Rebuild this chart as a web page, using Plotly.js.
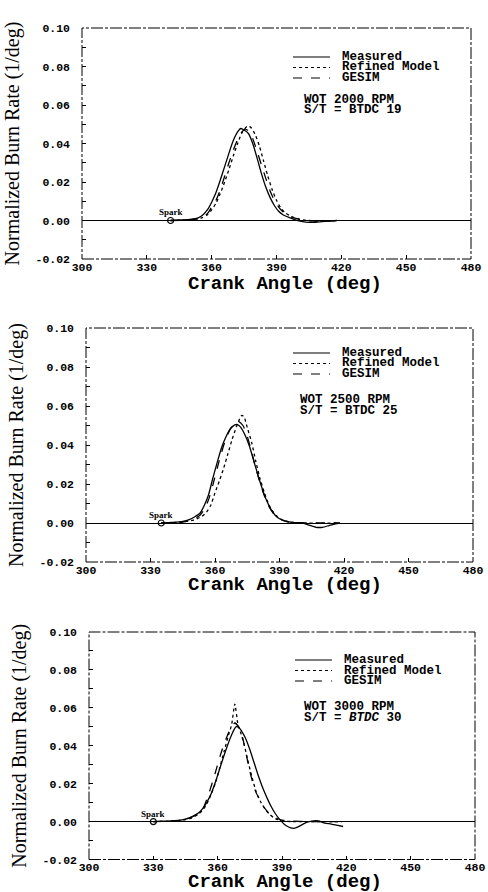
<!DOCTYPE html>
<html><head><meta charset="utf-8">
<script src="https://cdn.plot.ly/plotly-3.0.1.min.js"></script>
<style>html,body{margin:0;padding:0;background:#fff}#chart{width:488px;height:892px}</style>
</head><body><div id="chart"></div>
<script>
// ---------- data ----------
const xTickVals = [300, 330, 360, 390, 420, 450, 480];
const xTickLabels = ['300', '330', '360', '390', '420', '450', '480'];
const yTickVals = [-0.02, 0, 0.02, 0.04, 0.06, 0.08, 0.10];
const yTickLabels = ['-0.02', '0.00', '0.02', '0.04', '0.06', '0.08', '0.10'];

const seriesNames = ['Measured', 'Refined Model', 'GESIM'];
const panelRpm = ['2000', '2500', '3000'];
const panelBtdc = ['19', '25', '30'];
const sparkAngle = [341, 335, 330];

// Panel 1: WOT 2000 RPM
const p1MeasuredX = [341, 345, 350, 354, 356, 358, 360, 362, 364, 366, 368, 370, 372, 373.5, 375, 377, 379, 381, 383, 385, 387, 389, 391, 393, 396, 399, 402, 405, 408, 411, 414, 418];
const p1MeasuredY = [0, 0.0003, 0.0006, 0.0015, 0.003, 0.0055, 0.0095, 0.0145, 0.021, 0.028, 0.035, 0.0415, 0.046, 0.0478, 0.047, 0.0452, 0.040, 0.0325, 0.0245, 0.0175, 0.012, 0.0078, 0.0048, 0.003, 0.0015, 0.0002, -0.0006, -0.001, -0.0009, -0.0006, -0.0003, 0];
const p1RefinedX = [341, 350, 355, 358, 360, 362, 364, 366, 368, 370, 372, 374, 376.5, 378, 380, 382, 384, 386, 388, 390, 392, 394, 397, 400, 404, 410, 418];
const p1RefinedY = [0, 0.0003, 0.0012, 0.003, 0.0055, 0.009, 0.014, 0.020, 0.0265, 0.0335, 0.040, 0.0455, 0.049, 0.0485, 0.045, 0.039, 0.031, 0.023, 0.016, 0.0105, 0.0065, 0.004, 0.002, 0.0008, 0, -0.0003, 0];
const p1GesimX = [341, 350, 355, 358, 360, 362, 364, 366, 368, 370, 372, 374, 375.5, 377, 379, 381, 383, 385, 387, 389, 391, 393, 396, 400, 405, 410, 418];
const p1GesimY = [0, 0.0003, 0.0012, 0.0035, 0.007, 0.0105, 0.016, 0.023, 0.030, 0.0365, 0.042, 0.046, 0.0475, 0.0465, 0.0425, 0.036, 0.029, 0.022, 0.0155, 0.0105, 0.007, 0.0045, 0.0022, 0.0008, 0, -0.0004, 0];

// Panel 2: WOT 2500 RPM
const p2MeasuredX = [335, 340, 345, 348, 351, 353, 355, 357, 359, 361, 363, 365, 367, 369, 370.5, 372, 374, 376, 378, 380, 382, 384, 386, 388, 390, 393, 397, 401, 404, 407, 410, 413, 416, 418];
const p2MeasuredY = [0, 0.0003, 0.0008, 0.0017, 0.0035, 0.005, 0.009, 0.0145, 0.023, 0.031, 0.0385, 0.044, 0.048, 0.0502, 0.0505, 0.049, 0.045, 0.0395, 0.032, 0.0245, 0.0175, 0.0115, 0.007, 0.004, 0.0022, 0.0008, 0.0002, 0, -0.0012, -0.0022, -0.0022, -0.0013, -0.0004, 0];
const p2RefinedX = [335, 345, 350, 354, 356, 358, 360, 362, 364, 366, 368, 370, 371.5, 372.5, 373.5, 375, 377, 379, 381, 383, 385, 387, 389, 392, 396, 400, 418];
const p2RefinedY = [0, 0.0005, 0.0015, 0.0035, 0.0055, 0.009, 0.0155, 0.0215, 0.028, 0.0355, 0.043, 0.0495, 0.0535, 0.0552, 0.0545, 0.049, 0.0415, 0.0315, 0.0225, 0.0155, 0.0095, 0.0058, 0.0032, 0.0012, 0.0003, 0, 0];
const p2GesimX = [335, 345, 350, 353, 355, 357, 359, 361, 363, 365, 367, 369, 371, 373, 375, 377, 379, 381, 383, 385, 387, 389, 392, 396, 400, 410, 418];
const p2GesimY = [0, 0.0005, 0.002, 0.004, 0.007, 0.012, 0.0195, 0.028, 0.036, 0.043, 0.048, 0.051, 0.052, 0.050, 0.0445, 0.0365, 0.028, 0.0205, 0.0138, 0.0088, 0.0052, 0.003, 0.0012, 0.0003, 0, 0, 0];

// Panel 3: WOT 3000 RPM
const p3MeasuredX = [330, 335, 340, 344, 348, 351, 353, 355, 357, 359, 361, 363, 365, 367, 368.5, 370, 371, 373, 375, 377, 379, 381, 383, 385, 387, 389, 390.5, 392, 394, 396, 398, 400, 402, 405, 407, 410, 413, 416, 418.5];
const p3MeasuredY = [0, 0.0002, 0.0005, 0.001, 0.0025, 0.0045, 0.0068, 0.0103, 0.0148, 0.021, 0.028, 0.035, 0.0415, 0.047, 0.050, 0.0495, 0.048, 0.044, 0.038, 0.031, 0.024, 0.0178, 0.0125, 0.0078, 0.004, 0.001, -0.0008, -0.0022, -0.0033, -0.0035, -0.0025, -0.0012, -0.0002, 0.0004, 0.0003, -0.0008, -0.0013, -0.002, -0.0026];
const p3RefinedX = [330, 340, 345, 348, 351, 353, 355, 357, 359, 361, 363, 365, 366.5, 368, 369.5, 371, 372.5, 374, 376, 378, 380, 382, 384, 386, 388, 391, 395, 418];
const p3RefinedY = [0, 0.0003, 0.001, 0.002, 0.004, 0.006, 0.0095, 0.0145, 0.0205, 0.0285, 0.037, 0.0455, 0.051, 0.062, 0.051, 0.046, 0.040, 0.0325, 0.0235, 0.0155, 0.0105, 0.0068, 0.004, 0.0022, 0.001, 0.0002, 0, 0];
const p3GesimX = [330, 340, 345, 348, 350, 352.5, 355.5, 358.7, 361.8, 364.9, 366.5, 368, 370, 371.9, 373.4, 375, 377.3, 380.4, 383, 385.1, 388, 390, 395, 418];
const p3GesimY = [0, 0.0003, 0.0012, 0.0025, 0.0038, 0.0053, 0.0135, 0.025, 0.037, 0.0465, 0.0505, 0.052, 0.0495, 0.043, 0.035, 0.0265, 0.017, 0.0097, 0.0055, 0.0033, 0.0015, 0.0008, 0.0002, 0];

// ---------- build ----------
const W = 488, H = 892;
const panelData = [
  [[p1MeasuredX, p1MeasuredY], [p1RefinedX, p1RefinedY], [p1GesimX, p1GesimY]],
  [[p2MeasuredX, p2MeasuredY], [p2RefinedX, p2RefinedY], [p2GesimX, p2GesimY]],
  [[p3MeasuredX, p3MeasuredY], [p3RefinedX, p3RefinedY], [p3GesimX, p3GesimY]]
];
const dashes = ['solid', 'dot', 'dash'];
// plot boxes in page pixels (layout only)
const boxes = [
  {l: 82, r: 471, t: 28, b: 259, sx: 211, tx: 258, rows: [29, 39.5, 50], cx: 220, cy: [72, 82.5], xt: 284},
  {l: 86, r: 473, t: 328, b: 562, sx: 207, tx: 254, rows: [25, 35.5, 46], cx: 212, cy: [72, 83], xt: 585},
  {l: 89, r: 475, t: 632, b: 859.5, sx: 206, tx: 253, rows: [28, 38.5, 49], cx: 213, cy: [75, 85.5], xt: 882}
];
const px = v => v / W, py = v => 1 - v / H;

const monoFam = 'Liberation Mono, DejaVu Sans Mono, monospace';
const tickFont = {family: monoFam, size: 11.5, color: '#000', weight: 'bold'};
const monoBold = {family: monoFam, size: 12.5, color: '#000', weight: 'bold'};

const traces = [];
const layout = {
  width: W, height: H, margin: {l: 0, r: 0, t: 0, b: 0},
  paper_bgcolor: '#fff', plot_bgcolor: '#fff', showlegend: false,
  annotations: [], shapes: []
};

panelData.forEach((series, i) => {
  const s = i === 0 ? '' : String(i + 1);
  const b = boxes[i];
  series.forEach((xy, k) => {
    traces.push({
      type: 'scatter', mode: 'lines', name: seriesNames[k],
      x: xy[0], y: xy[1], xaxis: 'x' + s, yaxis: 'y' + s,
      line: {color: '#000', width: 1.3, dash: dashes[k], shape: 'spline', smoothing: 0.6},
      hoverinfo: 'skip'
    });
  });
  traces.push({
    type: 'scatter', mode: 'markers', name: 'Spark',
    x: [sparkAngle[i]], y: [0], xaxis: 'x' + s, yaxis: 'y' + s,
    marker: {symbol: 'circle-open', size: 6, color: '#000', line: {width: 1.2, color: '#000'}},
    hoverinfo: 'skip'
  });
  layout['xaxis' + s] = {
    domain: [px(b.l), px(b.r)], anchor: 'y' + s, range: [300, 480],
    tickmode: 'array', tickvals: xTickVals, ticktext: xTickLabels,
    ticks: 'inside', ticklen: 4, tickcolor: '#000', tickfont: tickFont, ticklabelstandoff: -1,
    showgrid: false, zeroline: false, showline: false, automargin: false
  };
  layout['yaxis' + s] = {
    domain: [py(b.b), py(b.t)], anchor: 'x' + s, range: [-0.02, 0.10],
    tickmode: 'array', tickvals: yTickVals, ticktext: yTickLabels,
    ticks: 'inside', ticklen: 4, tickcolor: '#000', tickfont: tickFont, ticklabelstandoff: 11,
    minor: {ticks: 'inside', ticklen: 4, tickcolor: '#000', tickmode: 'linear', tick0: 0, dtick: 0.01},
    showgrid: false, zeroline: true, zerolinecolor: '#000', zerolinewidth: 1,
    showline: false, automargin: false,
    title: {text: 'Normalized Burn Rate (1/deg)', font: {family: 'Liberation Serif, Times New Roman, serif', size: 20, color: '#000'}, standoff: 10}
  };
  // x-axis title placed under the tick labels
  layout.annotations.push({
    xref: 'paper', yref: 'paper', x: px(285), y: py(b.xt),
    xanchor: 'center', yanchor: 'middle', showarrow: false, text: 'Crank Angle (deg)',
    font: {family: monoFam, size: 19, color: '#000', weight: 'bold'}
  });
  // frame
  layout.shapes.push({
    type: 'rect', xref: 'x' + s + ' domain', yref: 'y' + s + ' domain', x0: 0, x1: 1, y0: 0, y1: 1,
    line: {color: '#000', width: 1, dash: '12px,2px,3px,2px'}
  });
  // legend samples and labels
  seriesNames.forEach((nm, k) => {
    const yy = b.t + b.rows[k];
    layout.shapes.push({
      type: 'line', xref: 'paper', yref: 'paper',
      x0: px(b.l + b.sx), x1: px(b.l + b.sx + 37), y0: py(yy), y1: py(yy),
      line: {color: '#000', width: 1.2, dash: dashes[k]}
    });
    layout.annotations.push({
      xref: 'paper', yref: 'paper', x: px(b.l + b.tx), y: py(yy),
      xanchor: 'left', yanchor: 'middle', showarrow: false, text: nm, font: monoBold
    });
  });
  layout.annotations.push({
    xref: 'paper', yref: 'paper', x: px(b.l + b.cx), y: py(b.t + b.cy[0]),
    xanchor: 'left', yanchor: 'middle', showarrow: false, text: 'WOT ' + panelRpm[i] + ' RPM', font: monoBold
  });
  layout.annotations.push({
    xref: 'paper', yref: 'paper', x: px(b.l + b.cx), y: py(b.t + b.cy[1]),
    xanchor: 'left', yanchor: 'middle', showarrow: false,
    text: 'S/T = ' + (i === 2 ? '<i>BTDC</i>' : 'BTDC') + ' ' + panelBtdc[i], font: monoBold
  });
  // spark label
  layout.annotations.push({
    xref: 'x' + s, yref: 'y' + s, x: sparkAngle[i], y: 0, yshift: 8,
    xanchor: 'center', yanchor: 'middle', showarrow: false, text: 'Spark',
    font: {family: 'Liberation Serif, serif', size: 9, color: '#000', weight: 'bold'}
  });
});

Plotly.newPlot('chart', traces, layout, {displayModeBar: false, staticPlot: true});
</script></body></html>
